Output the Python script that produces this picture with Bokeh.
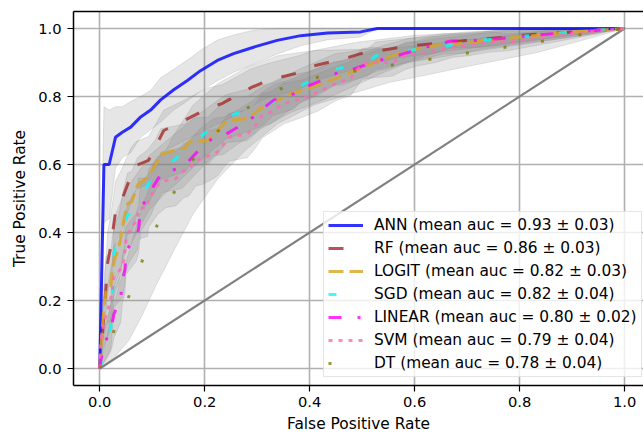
import numpy as np
from bokeh.plotting import figure
from bokeh.models import Range1d, Legend, LegendItem, LinearAxis, FixedTicker
from bokeh.embed import file_html
from bokeh.resources import INLINE

# ---------------- data ----------------
model_names = ["ANN", "RF", "LOGIT", "SGD", "LINEAR", "SVM", "DT"]
auc_means = [0.93, 0.86, 0.82, 0.82, 0.80, 0.79, 0.78]
auc_stds = [0.03, 0.03, 0.03, 0.04, 0.02, 0.04, 0.04]

ann_fpr = [0, 0.004, 0.008, 0.018, 0.03, 0.043, 0.059, 0.078, 0.097, 0.116, 0.141, 0.167, 0.192, 0.224, 0.255, 0.293, 0.338, 0.383, 0.434, 0.497, 0.529, 1.0]
ann_tpr = [0, 0.3, 0.6, 0.6, 0.68, 0.695, 0.71, 0.74, 0.76, 0.79, 0.82, 0.847, 0.876, 0.906, 0.926, 0.945, 0.965, 0.979, 0.987, 0.99, 1.0, 1.0]
ann_std = [0, 0.12, 0.17, 0.16, 0.09, 0.075, 0.075, 0.06, 0.058, 0.065, 0.06, 0.06, 0.06, 0.06, 0.055, 0.05, 0.04, 0.03, 0.02, 0.015, 0, 0]

rf_fpr = [0, 0.005, 0.01, 0.015, 0.021, 0.03, 0.043, 0.06, 0.069, 0.093, 0.122, 0.149, 0.206, 0.234, 0.288, 0.32, 0.379, 0.408, 0.474, 0.497, 0.57, 0.6, 0.669, 0.697, 0.768, 0.79, 0.9, 1.0]
rf_tpr = [0, 0.1, 0.2, 0.31, 0.36, 0.46, 0.5, 0.57, 0.597, 0.612, 0.7, 0.72, 0.765, 0.78, 0.826, 0.847, 0.87, 0.89, 0.915, 0.926, 0.944, 0.95, 0.96, 0.965, 0.974, 0.979, 0.99, 1.0]
rf_std = [0, 0.04, 0.07, 0.09, 0.09, 0.09, 0.09, 0.08, 0.07, 0.07, 0.06, 0.06, 0.06, 0.055, 0.055, 0.05, 0.05, 0.045, 0.04, 0.035, 0.03, 0.03, 0.025, 0.025, 0.02, 0.02, 0.01, 0]

logit_fpr = [0, 0.004, 0.008, 0.012, 0.021, 0.024, 0.03, 0.036, 0.046, 0.053, 0.061, 0.072, 0.091, 0.107, 0.116, 0.164, 0.17, 0.206, 0.243, 0.281, 0.307, 0.364, 0.398, 0.43, 0.465, 0.54, 0.587, 0.655, 0.693, 0.768, 0.9, 1.0]
logit_tpr = [0, 0.1, 0.18, 0.23, 0.24, 0.29, 0.33, 0.35, 0.44, 0.485, 0.49, 0.54, 0.563, 0.6, 0.63, 0.65, 0.666, 0.67, 0.73, 0.735, 0.765, 0.808, 0.823, 0.842, 0.862, 0.91, 0.935, 0.955, 0.957, 0.97, 0.99, 1.0]
logit_std = [0, 0.05, 0.08, 0.1, 0.1, 0.1, 0.1, 0.1, 0.09, 0.09, 0.09, 0.08, 0.08, 0.075, 0.075, 0.07, 0.07, 0.07, 0.065, 0.065, 0.06, 0.055, 0.05, 0.05, 0.045, 0.04, 0.035, 0.03, 0.03, 0.025, 0.015, 0]

sgd_fpr = [0, 0.01, 0.021, 0.024, 0.027, 0.034, 0.053, 0.059, 0.088, 0.093, 0.131, 0.145, 0.192, 0.24, 0.31, 0.326, 0.38, 0.447, 0.51, 0.526, 0.595, 0.666, 0.73, 0.754, 0.9, 1.0]
sgd_tpr = [0, 0.06, 0.12, 0.2, 0.34, 0.368, 0.45, 0.456, 0.53, 0.544, 0.6, 0.617, 0.682, 0.74, 0.773, 0.78, 0.83, 0.88, 0.9, 0.92, 0.937, 0.95, 0.965, 0.97, 0.99, 1.0]
sgd_std = [0, 0.04, 0.07, 0.09, 0.1, 0.1, 0.09, 0.09, 0.08, 0.08, 0.075, 0.075, 0.07, 0.065, 0.06, 0.06, 0.05, 0.045, 0.04, 0.04, 0.035, 0.03, 0.025, 0.025, 0.015, 0]

linear_fpr = [0, 0.002, 0.011, 0.024, 0.027, 0.04, 0.043, 0.048, 0.05, 0.069, 0.074, 0.078, 0.097, 0.103, 0.119, 0.157, 0.167, 0.19, 0.217, 0.236, 0.263, 0.293, 0.307, 0.332, 0.37, 0.383, 0.415, 0.446, 0.465, 0.53, 0.55, 0.62, 0.634, 0.669, 0.726, 0.76, 0.9, 1.0]
linear_tpr = [0, 0.025, 0.078, 0.135, 0.16, 0.206, 0.26, 0.29, 0.347, 0.385, 0.41, 0.473, 0.515, 0.538, 0.577, 0.59, 0.606, 0.644, 0.68, 0.685, 0.71, 0.74, 0.76, 0.79, 0.808, 0.823, 0.842, 0.867, 0.87, 0.906, 0.912, 0.945, 0.95, 0.963, 0.965, 0.97, 0.99, 1.0]
linear_std = [0, 0.02, 0.05, 0.07, 0.07, 0.07, 0.07, 0.07, 0.07, 0.07, 0.07, 0.07, 0.065, 0.065, 0.06, 0.06, 0.06, 0.06, 0.055, 0.055, 0.05, 0.05, 0.05, 0.045, 0.045, 0.04, 0.04, 0.035, 0.035, 0.03, 0.03, 0.025, 0.025, 0.02, 0.02, 0.02, 0.01, 0]

svm_fpr = [0, 0.001, 0.003, 0.008, 0.017, 0.024, 0.027, 0.043, 0.046, 0.05, 0.055, 0.072, 0.074, 0.091, 0.093, 0.11, 0.126, 0.145, 0.16, 0.17, 0.183, 0.196, 0.208, 0.224, 0.246, 0.281, 0.293, 0.31, 0.326, 0.35, 0.386, 0.417, 0.45, 0.478, 0.5, 0.52, 0.558, 0.583, 0.608, 0.64, 0.672, 0.703, 0.741, 0.779, 0.9, 1.0]
svm_tpr = [0, 0.05, 0.09, 0.136, 0.18, 0.23, 0.27, 0.298, 0.32, 0.376, 0.4, 0.44, 0.47, 0.474, 0.5, 0.538, 0.553, 0.559, 0.582, 0.588, 0.612, 0.617, 0.626, 0.636, 0.68, 0.69, 0.706, 0.744, 0.754, 0.779, 0.794, 0.813, 0.838, 0.853, 0.896, 0.9, 0.9, 0.92, 0.926, 0.935, 0.945, 0.95, 0.96, 0.96, 0.985, 1.0]
svm_std = [0, 0.03, 0.05, 0.07, 0.08, 0.09, 0.09, 0.09, 0.09, 0.09, 0.09, 0.09, 0.09, 0.085, 0.085, 0.085, 0.08, 0.08, 0.08, 0.08, 0.075, 0.075, 0.075, 0.07, 0.07, 0.07, 0.065, 0.065, 0.06, 0.06, 0.055, 0.055, 0.05, 0.05, 0.045, 0.045, 0.04, 0.04, 0.035, 0.035, 0.03, 0.03, 0.03, 0.025, 0.015, 0]

dt_fpr = [0, 0.027, 0.056, 0.081, 0.109, 0.142, 0.178, 0.225, 0.279, 0.339, 0.408, 0.479, 0.551, 0.622, 0.693, 0.765, 0.835, 0.907, 1.0]
dt_tpr = [0, 0.11, 0.214, 0.317, 0.42, 0.519, 0.615, 0.698, 0.764, 0.82, 0.855, 0.873, 0.891, 0.908, 0.926, 0.943, 0.96, 0.98, 1.0]
dt_std = [0, 0.08, 0.13, 0.16, 0.17, 0.17, 0.16, 0.14, 0.12, 0.1, 0.08, 0.065, 0.05, 0.045, 0.04, 0.035, 0.03, 0.02, 0]

chance = [0, 1]

x_ticks = [0.0, 0.2, 0.4, 0.6, 0.8, 1.0]
x_tick_labels = ["0.0", "0.2", "0.4", "0.6", "0.8", "1.0"]
y_ticks = [0.0, 0.2, 0.4, 0.6, 0.8, 1.0]
y_tick_labels = ["0.0", "0.2", "0.4", "0.6", "0.8", "1.0"]

# ---------------- styles ----------------
series = [
    (ann_fpr, ann_tpr, ann_std, "blue", "solid"),
    (rf_fpr, rf_tpr, rf_std, "brown", "15 20"),
    (logit_fpr, logit_tpr, logit_std, "goldenrod", "15 6"),
    (sgd_fpr, sgd_tpr, sgd_std, "cyan", "8 30"),
    (linear_fpr, linear_tpr, linear_std, "magenta", "13 16 3 16"),
    (svm_fpr, svm_tpr, svm_std, "hotpink", "4 6"),
    (dt_fpr, dt_tpr, dt_std, "olive", "3 35"),
]

FONT = "DejaVu Sans"

p = figure(frame_width=570, frame_height=374,
           x_range=Range1d(-0.05, 1.036), y_range=Range1d(-0.05, 1.05),
           output_backend="svg", toolbar_location=None,
           min_border_left=73, min_border_right=0, min_border_top=11, min_border_bottom=50)
p.outline_line_color = None
p.background_fill_color = "white"

for g in (p.xgrid, p.ygrid):
    g.grid_line_color = "#b0b0b0"
    g.grid_line_width = 1.6
for ax in (p.xaxis, p.yaxis):
    ax.axis_line_color = "black"
    ax.axis_line_width = 1.5
    ax.major_tick_line_color = "black"
    ax.major_tick_line_width = 1.2
    ax.major_tick_out = 6
    ax.major_tick_in = 0
    ax.minor_tick_line_color = None
    ax.major_label_text_font = FONT
    ax.major_label_text_font_size = "14.7px"
    ax.major_label_text_color = "black"
    ax.axis_label_text_font = FONT
    ax.axis_label_text_font_size = "15.4px"
    ax.axis_label_text_font_style = "normal"
    ax.axis_label_text_color = "black"

p.xaxis.ticker = FixedTicker(ticks=x_ticks)
p.xaxis.major_label_overrides = dict(zip(x_ticks, x_tick_labels))
p.yaxis.ticker = FixedTicker(ticks=y_ticks)
p.yaxis.major_label_overrides = dict(zip(y_ticks, y_tick_labels))
p.xaxis.axis_label = "False Positive Rate"
p.yaxis.axis_label = "True Positive Rate"
p.xaxis.major_label_standoff = 5
p.yaxis.major_label_standoff = 6
p.xaxis.axis_label_standoff = 5
p.yaxis.axis_label_standoff = 6
p.xgrid.ticker = FixedTicker(ticks=x_ticks)
p.ygrid.ticker = FixedTicker(ticks=y_ticks)

top = LinearAxis(ticker=FixedTicker(ticks=[]), major_label_text_font_size="0px",
                 major_tick_line_color=None, minor_tick_line_color=None,
                 axis_line_color="black", axis_line_width=1.5, major_label_standoff=0)
p.add_layout(top, "above")

# bands
for fpr, tpr, std, color, dash in series:
    f = np.array(fpr)
    t = np.array(tpr)
    s = np.array(std)
    up = np.minimum(t + s, 1.0)
    lo = np.maximum(t - s, 0.0)
    xs = np.concatenate([f, f[::-1]])
    ys = np.concatenate([up, lo[::-1]])
    p.patch(xs, ys, fill_color="grey", fill_alpha=0.2, line_color="grey", line_alpha=0.2, line_width=1)

# chance line
p.line(chance, chance, line_color="grey", line_width=2.2)

items = []
for (fpr, tpr, std, color, dash), name, m, sd in zip(series, model_names, auc_means, auc_stds):
    r = p.line(fpr, tpr, line_color=color, line_alpha=0.8, line_width=3, line_dash=dash)
    items.append(LegendItem(label=f"{name} (mean auc = {m:.2f} \u00b1 {sd:.2f})", renderers=[r]))

legend = Legend(items=items, location=(250, 8))
legend.label_text_font = FONT
legend.label_text_font_size = "15.4px"
legend.label_text_color = "black"
legend.glyph_width = 35
legend.glyph_height = 18
legend.label_height = 18
legend.label_standoff = 11
legend.spacing = 5
legend.padding = 4
legend.margin = 0
legend.border_line_color = "#cccccc"
legend.border_line_width = 1
legend.background_fill_color = "white"
legend.background_fill_alpha = 0.8
p.add_layout(legend)

open("out.html", "w").write(file_html(p, INLINE))
